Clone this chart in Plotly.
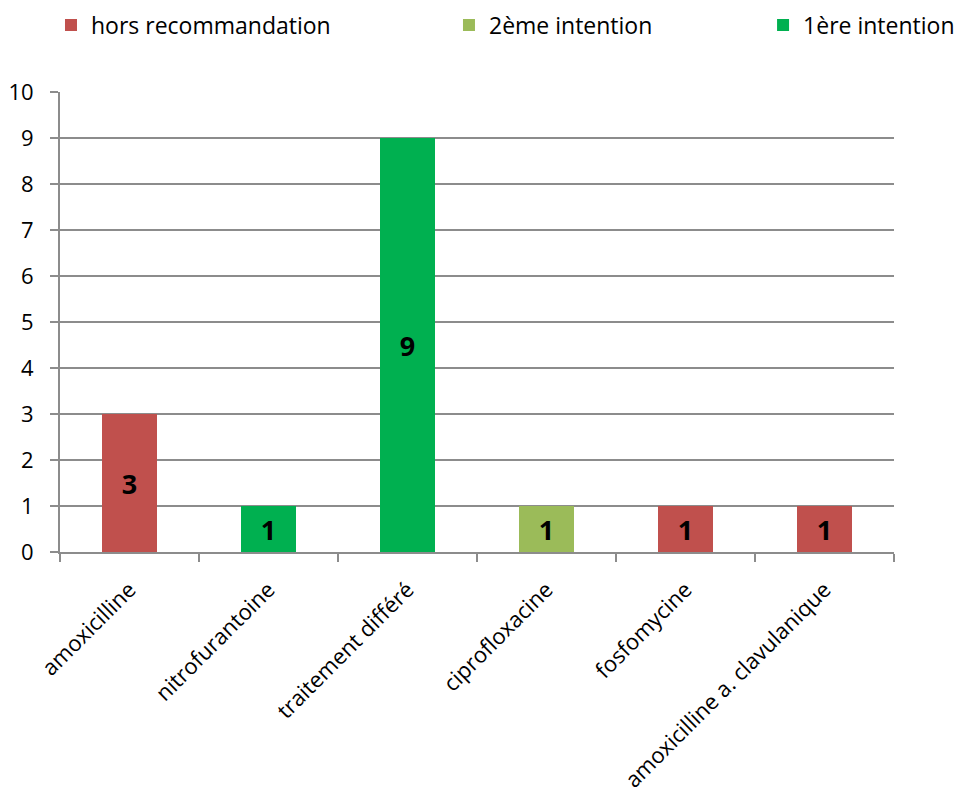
import plotly.graph_objects as go

categories = ["amoxicilline", "nitrofurantoine", "traitement différé",
              "ciprofloxacine", "fosfomycine", "amoxicilline a. clavulanique"]
series_names = ["hors recommandation", "2ème intention", "1ère intention"]
hors_reco = [3, None, None, None, 1, 1]
deuxieme = [None, None, None, 1, None, None]
premiere = [None, 1, 9, None, None, None]
colors = ["#C0504D", "#9BBB59", "#00B050"]
y_ticks = list(range(0, 11))

FONT = "Open Sans"
legend_ids = ["legend", "legend2", "legend3"]
legend_x = [-0.0108, 0.4664, 0.843]

fig = go.Figure()
for name, vals, col, lid in zip(series_names, [hors_reco, deuxieme, premiere], colors, legend_ids):
    fig.add_trace(go.Bar(
        x=categories, y=vals, name=name, marker_color=col,
        marker_line_width=0, legend=lid,
        text=[None if v is None else f"<b>{v}</b>" for v in vals],
        textposition="inside", insidetextanchor="middle",
        textfont=dict(family=FONT, size=27, color="black"),
        textangle=0,
    ))

leg_common = dict(orientation="h", y=1.1457, yanchor="middle", xanchor="left",
                  font=dict(family=FONT, size=23, color="black"),
                  bgcolor="rgba(0,0,0,0)")
fig.update_layout(
    width=961, height=788,
    barmode="stack", bargap=0.6,
    paper_bgcolor="white", plot_bgcolor="white",
    margin=dict(l=52, r=75, t=84, b=244, autoexpand=False),
    font=dict(family=FONT, size=23, color="black"),
    showlegend=True,
    legend=dict(x=legend_x[0], **leg_common),
    legend2=dict(x=legend_x[1], **leg_common),
    legend3=dict(x=legend_x[2], **leg_common),
    uniformtext=dict(minsize=10, mode="show"),
)
fig.update_yaxes(range=[0, 10], tickvals=y_ticks, showgrid=True, gridcolor="#8C8C8C",
                 gridwidth=2, showline=True, linecolor="#8C8C8C", linewidth=2,
                 ticks="outside", ticklen=8, tickcolor="#8C8C8C", tickwidth=2,
                 ticklabelstandoff=12,
                 zeroline=False, tickfont=dict(family=FONT, size=22))
fig.update_xaxes(showline=True, linecolor="#8C8C8C", linewidth=2,
                 ticks="outside", tickson="boundaries", ticklen=8, tickcolor="#8C8C8C",
                 tickwidth=2, tickangle=-45, ticklabelstandoff=14,
                 tickfont=dict(family=FONT, size=22))

fig.write_html("out.html")
